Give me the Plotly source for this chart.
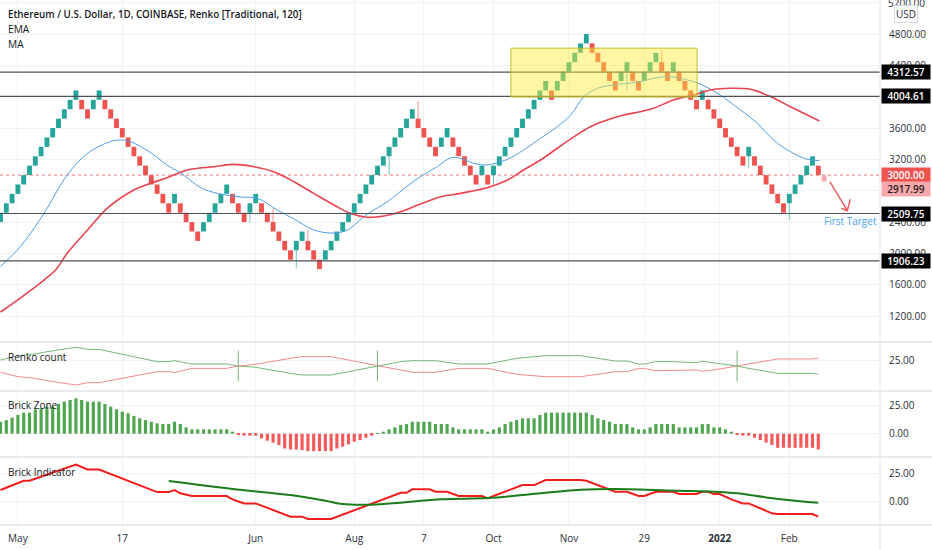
import plotly.graph_objects as go
from plotly.subplots import make_subplots

BOX = 120  # renko box size

# closes of the finished renko bricks, left to right
brick_close = [
    2520, 2640, 2760, 2880, 3000, 3120, 3240, 3360, 3480, 3600, 3720, 3840, 3960, 4080,
    3840, 3720, 3960, 4080,
    3840, 3720, 3600, 3480, 3360, 3240, 3120, 3000, 2880, 2760, 2640, 2520,
    2760, 2520, 2400, 2280, 2160,
    2400, 2520, 2640, 2760, 2880,
    2640, 2520, 2400, 2640, 2760,
    2520, 2400, 2280, 2160, 2040, 1920,
    2160, 2280, 2040, 1920, 1800,
    2040, 2160, 2280, 2400, 2520, 2640, 2760, 2880, 3000, 3120, 3240, 3360, 3480, 3600, 3720, 3840,
    3600, 3480, 3360, 3240, 3480, 3600,
    3360, 3240, 3120, 3000, 2880, 3120, 2880,
    3120, 3240, 3360, 3480, 3600, 3720, 3840, 3960, 4080, 4200,
    3960, 4200, 4320, 4440, 4560, 4680, 4800,
    4560, 4440, 4320, 4200, 4080, 4320, 4440, 4200, 4080,
    4320, 4440, 4560, 4320, 4200, 4440,
    4200, 4080, 3960, 3840, 4080,
    3840, 3720, 3600, 3480, 3360, 3240, 3120, 3360,
    3120, 3000, 2880, 2760, 2640, 2520,
    2760, 2880, 3000, 3120, 3240, 3000,
]
pending_price = 2917.99

wick_idx = [43, 47, 51, 53, 67, 72, 85, 108, 114, 122, 129, 136]
wick_price = [2392, 2576, 1810, 2308, 3001, 3949, 2873, 4085, 4596, 3987, 3086, 2427]

ema_x = [0, 3.4, 7.5, 11.5, 15, 18.4, 20.4, 22.4, 25.9, 28.7, 31, 34.5, 37.4, 41.4, 44.3,
         47.7, 50.6, 54, 57.5, 59.8, 63.2, 66.7, 70, 72.4, 75.3, 77.6, 79.3, 81.6, 83.9,
         85.3, 87.4, 90.2, 93.1, 96, 98.3, 100.6, 102.9, 105.7, 108, 110.3, 112.6, 115.3,
         117.2, 120.3, 123.2, 127.6, 130.5, 133.3, 136.2, 139.1, 141.2]
ema_y = [1835, 2086, 2512, 3001, 3278, 3413, 3448, 3426, 3286, 3128, 3030, 2840, 2767, 2720, 2703,
         2554, 2440, 2299, 2260, 2300, 2500, 2660, 2852, 2980, 3107, 3220, 3214, 3150, 3128,
         3150, 3201, 3320, 3469, 3617, 3766, 4000, 4107, 4149, 4171, 4191, 4235, 4255,
         4235, 4171, 4064, 3830, 3660, 3447, 3298, 3201, 3185]

ma_x = [0, 3.4, 7.5, 9.5, 11.5, 15, 18.4, 23, 25.9, 28.7, 32.2, 36.8, 40.2, 43.7, 47.1, 50.6,
        54, 57.5, 60.3, 63.2, 66.1, 69, 72.4, 75.9, 79.3, 84.5, 87.4, 90.2, 93.1, 96, 98.9,
        101.7, 104.6, 107.5, 110.3, 112.6, 116, 119.5, 122.4, 125.9, 129.3, 132.8, 136.2,
        139.1, 141.2]
ma_y = [1253, 1431, 1661, 1789, 2002, 2299, 2576, 2809, 2895, 2966, 3065, 3107, 3137, 3107, 3043, 2915,
        2767, 2618, 2512, 2461, 2478, 2533, 2631, 2724, 2767, 2852, 2937, 3065, 3192, 3342, 3490,
        3617, 3703, 3766, 3809, 3852, 3958, 4022, 4085, 4107, 4094, 4000, 3872,
        3766, 3690]

level_prices = [4312.57, 4004.61, 2509.75, 1906.23]
last_close = 3000.00
price_ticks = [1200, 1600, 2000, 2400, 2800, 3200, 3600, 4000, 4400, 4800]
hidden_ticks = [2800, 4000]  # sit fully under the price tags
top_tick = 5200  # half cut by the top edge

# Renko count
count_x_green = [0, 3, 6, 8, 13, 15, 17, 27, 29, 30, 33, 39, 41, 44, 50, 52, 57, 65, 69, 71, 75, 79,
                 84, 89, 94, 100, 106, 108, 110, 111, 113, 116, 120, 121, 123, 127, 128, 134, 140, 141]
count_green = [25.6, 29.7, 31.3, 33.4, 37.5, 35.6, 35.6, 24.1, 24.1, 25.0, 21.9, 21.9, 20.0, 18.8,
               13.1, 11.6, 11.6, 20.0, 24.1, 25.0, 25.0, 21.9, 21.9, 27.2, 29.7, 29.7, 24.7, 24.7,
               21.9, 21.9, 24.1, 24.1, 23.1, 24.4, 23.1, 20.0, 18.8, 13.1, 13.1, 12.2]
count_x_red = count_x_green
count_red = [14.1, 10.0, 8.4, 6.3, 2.2, 4.4, 4.4, 14.7, 14.7, 13.8, 17.8, 17.8, 20.0, 21.6,
             27.2, 28.8, 28.8, 20.0, 15.6, 14.1, 14.1, 17.8, 17.8, 12.2, 10.0, 10.0, 14.7, 14.7,
             17.8, 17.8, 15.6, 15.6, 16.3, 15.0, 16.3, 20.0, 21.0, 26.6, 26.6, 27.2]
cross_idx = [41, 65, 127]
cross_val = [20.0, 20.0, 20.0]

# Brick Zone, one bar per brick
zone_values = [
    10.8, 12.3, 14.5, 16.9, 19.0, 19.0, 22.0, 22.9, 24.4, 24.4,
    26.8, 28.9, 30.4, 31.9, 30.4, 28.9, 28.9, 28.9, 26.8, 24.4,
    22.0, 19.9, 18.4, 15.9, 13.9, 12.3, 10.8, 9.3, 8.7, 8.7,
    10.8, 8.7, 5.7, 3.9, 3.9, 3.9, 3.9, 3.9, 3.9, 3.9,
    1.8, -0.4, -1.8, -1.8, -1.8, -4.2, -6.3, -8.1, -10.2, -13.3,
    -14.2, -14.2, -14.8, -15.7, -15.7, -15.7, -15.7, -15.7, -13.3, -11.7,
    -9.6, -7.2, -5.7, -3.6, -1.8, 0.4, 1.8, 3.9, 5.7, 7.8,
    8.7, 10.8, 10.8, 10.8, 10.8, 8.7, 8.7, 8.7, 5.7, 3.9,
    3.9, 3.9, 3.9, 3.9, 1.8, 3.9, 5.7, 8.7, 10.8, 12.3,
    13.9, 13.9, 13.9, 16.9, 19.0, 19.0, 19.0, 19.0, 19.0, 19.0,
    19.0, 19.0, 16.9, 13.9, 12.3, 10.8, 8.7, 8.7, 8.7, 5.7,
    3.9, 3.9, 5.7, 8.7, 8.7, 8.7, 8.7, 5.7, 5.7, 5.7,
    5.7, 8.7, 8.7, 5.7, 5.7, 3.9, 1.8, -0.4, -1.8, -1.8,
    -3.6, -5.7, -8.1, -10.2, -12.7, -12.7, -12.7, -12.7, -12.7, -12.7,
    -12.7, -14.2,
]

# Brick Indicator
ind_red_x = [0, 4, 5, 13, 15, 17, 27, 29, 30, 31, 33, 39, 40, 42, 44, 46, 48, 50, 52, 53, 57,
             69, 70, 71, 74, 75, 77, 79, 83, 84, 85, 90, 92, 94, 100, 101, 106, 108, 110, 111,
             113, 116, 117, 120, 121, 122, 123, 124, 126, 128, 129, 133, 134, 140, 141]
ind_red = [10.3, 18.5, 18.5, 32.9, 28.5, 28.5, 8.5, 8.5, 10.3, 7.4, 5.0, 5.0, 2.1, -1.5, -1.5,
           -5.3, -8.8, -13.2, -13.2, -15.3, -15.3, 7.9, 7.9, 10.9, 10.9, 8.8, 8.8, 5.0, 5.0,
           2.9, 5.0, 14.7, 14.7, 19.1, 19.1, 18.5, 8.8, 8.8, 5.0, 5.0, 8.8, 8.8, 6.8, 6.8,
           8.8, 8.8, 6.8, 6.8, 2.1, -1.5, -1.5, -10.3, -10.9, -10.9, -13.2]
ind_green_x = [29, 40, 50, 56, 59, 64, 69, 76, 84, 90, 100, 106, 117, 123, 127, 132, 137, 141]
ind_green = [18.2, 11.2, 5.9, 0.9, -2.1, -2.6, -0.9, 2.1, 3.2, 5.9, 10.5, 11.2, 9.7, 8.8, 7.4,
             3.8, 0.9, -0.9]

date_ticks = [3, 21, 44, 61, 73, 85, 98, 111, 124, 136]
date_labels = ["May", "17", "Jun", "Aug", "7", "Oct", "Nov", "29", "<b>2022</b>", "Feb"]

GREEN = "#26a69a"
RED = "#ef5350"
FONT = "Open Sans"
TXT = "#2a2e39"

# ---- derived brick geometry
n = len(brick_close)
idx = list(range(n))
up = [True] + [brick_close[i] > brick_close[i - 1] for i in range(1, n)]
bottoms = [c - BOX if u else c for c, u in zip(brick_close, up)]

fig = make_subplots(rows=4, cols=1, shared_xaxes=True, vertical_spacing=0)

fig.add_trace(go.Bar(
    x=idx + [n],
    y=[BOX] * n + [brick_close[-1] - pending_price],
    base=bottoms + [pending_price],
    width=0.84,
    marker=dict(color=[GREEN if u else RED for u in up] + ["#f7a9ad"], line_width=0),
    hoverinfo="skip",
), row=1, col=1)

# wicks
for want_up, col in [(True, "rgba(38,166,154,0.65)"), (False, "rgba(239,83,80,0.65)")]:
    wx, wy = [], []
    for k, p in zip(wick_idx, wick_price):
        if up[k] != want_up:
            continue
        lo, hi = bottoms[k], bottoms[k] + BOX
        start = hi if p > hi else lo
        wx += [k, k, None]
        wy += [start, p, None]
    fig.add_trace(go.Scatter(x=wx, y=wy, mode="lines", line=dict(color=col, width=1),
                             hoverinfo="skip"), row=1, col=1)

fig.add_trace(go.Scatter(x=ema_x, y=ema_y, mode="lines", line=dict(color="#4a9fe8", width=1),
                         line_shape="spline", hoverinfo="skip"), row=1, col=1)
fig.add_trace(go.Scatter(x=ma_x, y=ma_y, mode="lines", line=dict(color="#e8434f", width=1.6),
                         line_shape="spline", hoverinfo="skip"), row=1, col=1)

# Renko count
fig.add_trace(go.Scatter(x=count_x_green, y=count_green, mode="lines",
                         line=dict(color="#74b874", width=1), hoverinfo="skip"), row=2, col=1)
fig.add_trace(go.Scatter(x=count_x_red, y=count_red, mode="lines",
                         line=dict(color="#f08a8a", width=1), hoverinfo="skip"), row=2, col=1)
fig.add_trace(go.Scatter(x=cross_idx, y=cross_val, mode="markers",
                         marker=dict(symbol="line-ns", size=22, line=dict(color="#74b874", width=1)),
                         hoverinfo="skip"), row=2, col=1)

# Brick Zone
fig.add_trace(go.Bar(
    x=idx, y=zone_values, width=0.55,
    marker=dict(color=["#4fa64f" if v >= 0 else "#f55a5a" for v in zone_values], line_width=0),
    hoverinfo="skip",
), row=3, col=1)

# Brick Indicator
fig.add_trace(go.Scatter(x=ind_red_x, y=ind_red, mode="lines",
                         line=dict(color="#f01c1c", width=2), hoverinfo="skip"), row=4, col=1)
fig.add_trace(go.Scatter(x=ind_green_x, y=ind_green, mode="lines", line_shape="spline",
                         line=dict(color="#197d19", width=2), hoverinfo="skip"), row=4, col=1)

W, H, PW = 932, 550, 880


def py(p):
    return 1 - p / H


xr = [-0.5 / 5.8, (PW - 0.5) / 5.8]
for k in range(1, 5):
    fig.update_xaxes(row=k, col=1, range=xr, tickvals=date_ticks, ticktext=date_labels,
                     showgrid=True, gridcolor="#f1f2f5", zeroline=False, showline=False,
                     showticklabels=(k == 4), ticks="", fixedrange=True, ticklabelstandoff=6,
                     tickfont=dict(family=FONT, size=10, color=TXT))

axis_common = dict(side="right", showgrid=True, gridcolor="#f1f2f5", zeroline=False,
                   showline=False, ticks="", ticklabelstandoff=8, fixedrange=True,
                   tickfont=dict(family=FONT, size=10, color=TXT))
fig.update_yaxes(row=1, col=1, domain=[py(342), 1], range=[870, 5234], tickvals=price_ticks,
                 ticktext=["" if v in hidden_ticks else f"{v:.2f}" for v in price_ticks],
                 **axis_common)
fig.update_yaxes(row=2, col=1, domain=[py(391), py(342)], range=[-3.4, 42.5], tickvals=[25],
                 ticktext=["25.00"], **axis_common)
fig.update_yaxes(row=3, col=1, domain=[py(457), py(391)], range=[-21.0, 38.5], tickvals=[0, 25],
                 ticktext=["0.00", "25.00"], **axis_common)
fig.update_yaxes(row=4, col=1, domain=[py(525), py(457)], range=[-20.6, 39.5], tickvals=[0, 25],
                 ticktext=["0.00", "25.00"], **axis_common)

shapes = []
for p in level_prices:
    shapes.append(dict(type="line", xref="paper", yref="y", x0=0, x1=1, y0=p, y1=p,
                       line=dict(color="#4e5059", width=1.2), layer="above"))
shapes.append(dict(type="line", xref="paper", yref="y", x0=0, x1=1, y0=last_close, y1=last_close,
                   line=dict(color="rgba(239,83,80,0.8)", width=1, dash="dot"), layer="below"))
shapes.append(dict(type="line", xref="paper", yref="y", x0=0, x1=1, y0=top_tick, y1=top_tick,
                   line=dict(color="#f1f2f5", width=1), layer="below"))
# consolidation box
shapes.append(dict(type="rect", xref="x", yref="y", x0=88.0, x1=120.1, y0=3995, y1=4620,
                   fillcolor="rgba(255,234,50,0.45)", line=dict(color="rgba(196,182,30,0.9)", width=1),
                   layer="above"))
# arrow toward first target
shapes.append(dict(type="path", xref="x", yref="y",
                   path="M 143.0,2915 L 146.0,2545 M 145.0,2576 L 146.0,2545 L 146.5,2691",
                   line=dict(color="#ef5350", width=1.4), layer="above"))
# pane separators and price-scale border
for yy in [342, 391, 457, 525]:
    shapes.append(dict(type="line", xref="paper", yref="paper", x0=0, x1=W / PW, y0=py(yy), y1=py(yy),
                       line=dict(color="#e0e3eb", width=1.5)))
shapes.append(dict(type="line", xref="paper", yref="paper", x0=1, x1=1, y0=0, y1=1,
                   line=dict(color="#e0e3eb", width=1)))

ann = []


def label(text, x, y, size=10, color=TXT, weight="normal"):
    ann.append(dict(text=text, xref="paper", yref="paper", x=x / PW, y=py(y), xanchor="left",
                    yanchor="middle", showarrow=False,
                    font=dict(family=FONT, size=size, color=color, weight=weight)))


label("Ethereum / U.S. Dollar, 1D, COINBASE, Renko [Traditional, 120]", 6, 14, 9.8, "#131722", 600)
label("EMA", 6, 29, 10.2, "#131722")
label("MA", 6, 44, 10.2, "#131722")
label("Renko count", 6, 357, 10, "#131722")
label("Brick Zone", 6, 405, 10, "#131722")
label("Brick Indicator", 6, 472, 10, "#131722")

ann.append(dict(text=f"{top_tick:.2f}", xref="paper", yref="y", x=1, y=top_tick, xanchor="left",
                yanchor="middle", xshift=6, showarrow=False,
                font=dict(family=FONT, size=10, color=TXT)))
ann.append(dict(text="USD", xref="paper", yref="paper", x=906 / PW, y=py(14), xanchor="center",
                yanchor="middle", showarrow=False, bgcolor="white", bordercolor="#d1d4dc",
                borderwidth=1, borderpad=1, font=dict(family=FONT, size=10, color=TXT)))

# price tags on the scale; the live-price tag is pushed below the last-close tag
tags = [(p, f"{p:.2f}", "#000000", "white", 0) for p in level_prices]
tags += [(last_close, f"{last_close:.2f}", "#ef5350", "white", 0),
         (pending_price, f"{pending_price:.2f}", "#f6a9ad", "#2a1a1a", -7)]
for p, t, bg, fg, shift in tags:
    ann.append(dict(text=t, xref="paper", yref="y", x=1, y=p, xanchor="left", yanchor="middle",
                    xshift=1, yshift=shift, showarrow=False, bgcolor=bg, borderpad=1,
                    width=46, height=12,
                    font=dict(family=FONT, size=10, color=fg, weight=600)))

ann.append(dict(text="First Target", xref="x", yref="y", x=146.6, y=2414, xanchor="center",
                yanchor="middle", showarrow=False, font=dict(family=FONT, size=10, color="#4aa3f0")))

fig.update_layout(
    width=W, height=H, margin=dict(l=0, r=W - PW, t=0, b=0),
    paper_bgcolor="white", plot_bgcolor="white",
    showlegend=False, barmode="overlay",
    shapes=shapes, annotations=ann,
    font=dict(family=FONT),
)

fig.write_html("out.html", config={"displayModeBar": False},
               post_script="document.body.style.margin='0px';")
